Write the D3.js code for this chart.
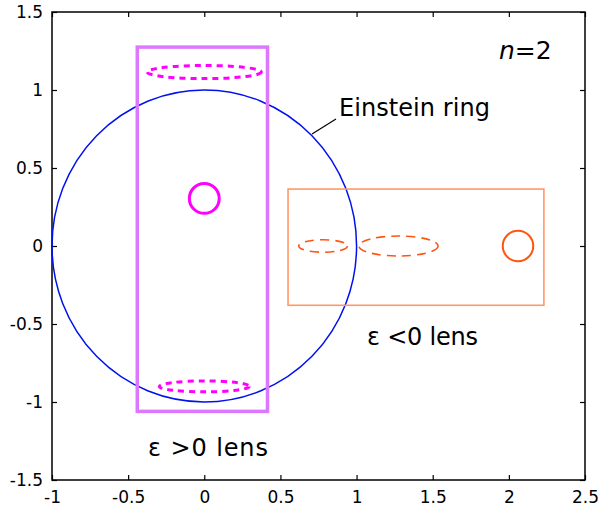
<!DOCTYPE html>
<html><head><meta charset="utf-8">
<script src="https://cdn.jsdelivr.net/npm/d3@7"></script>
<style>body{margin:0;background:#fff}svg{display:block}text{font-family:"DejaVu Sans",sans-serif;fill:#000}</style>
</head><body><svg id="c" width="600" height="512"></svg>
<script>
const xTicks = [-1, -0.5, 0, 0.5, 1, 1.5, 2, 2.5];
const yTicks = [-1.5, -1, -0.5, 0, 0.5, 1, 1.5];
const xDomain = [-1, 2.5];
const yDomain = [-1.5, 1.5];
// Einstein ring (data circle)
const ring = {cx: 0, cy: 0, r: 1};
// Lens boxes: [x0, x1, y0, y1]
const boxPos = [-0.44, 0.415, -1.06, 1.275];
const boxNeg = [0.55, 2.23, -0.38, 0.365];
// Source circles: cx, cy, r
const srcPos = {cx: 0, cy: 0.305, r: 0.098};
const srcNeg = {cx: 2.06, cy: 0.0, r: 0.1};
// Images (ellipses): cx, cy, rx, ry
const imgPos = [{cx: 0.0, cy: 1.115, rx: 0.375, ry: 0.042}, {cx: 0.0, cy: -0.9, rx: 0.295, ry: 0.035}];
const imgNeg = [{cx: 0.78, cy: 0.0, rx: 0.16, ry: 0.04}, {cx: 1.275, cy: 0.0, rx: 0.26, ry: 0.064}];

const svg = d3.select("#c");
const L = 52, R = 585, T = 12, B = 480;
const x = d3.scaleLinear().domain(xDomain).range([L, R]);
const y = d3.scaleLinear().domain(yDomain).range([B, T]);
const fmt = d => String(d);

// axes with inward ticks
const ax = [
  {g: d3.axisBottom(x).tickValues(xTicks).tickSize(-5).tickPadding(11).tickFormat(fmt), t: `translate(0,${B})`},
  {g: d3.axisTop(x).tickValues(xTicks).tickSize(-5).tickFormat(""), t: `translate(0,${T})`},
  {g: d3.axisLeft(y).tickValues(yTicks).tickSize(-5).tickPadding(9).tickFormat(fmt), t: `translate(${L},0)`},
  {g: d3.axisRight(y).tickValues(yTicks).tickSize(-5).tickFormat(""), t: `translate(${R},0)`}
];
ax.forEach(a => {
  const g = svg.append("g").attr("transform", a.t).call(a.g);
  g.select(".domain").remove();
  g.selectAll("line").attr("stroke", "#000").attr("stroke-width", 1.2);
  g.selectAll("text").style("font-size", "17px").attr("fill", "#000").style("font-family", '"DejaVu Sans",sans-serif');
});
svg.append("rect").attr("x", L).attr("y", T).attr("width", R - L).attr("height", B - T)
  .attr("fill", "none").attr("stroke", "#000").attr("stroke-width", 1.5);

const ell = (sel, d) => sel.append("ellipse")
  .attr("cx", x(d.cx)).attr("cy", y(d.cy))
  .attr("rx", x(d.cx + d.rx) - x(d.cx)).attr("ry", y(d.cy) - y(d.cy + d.ry)).attr("fill", "none");
const circ = (d) => svg.append("circle").attr("cx", x(d.cx)).attr("cy", y(d.cy))
  .attr("r", x(d.cx + d.r) - x(d.cx)).attr("fill", "none");

// Einstein ring
ell(svg, {cx: ring.cx, cy: ring.cy, rx: ring.r, ry: ring.r}).attr("stroke", "#0011ee").attr("stroke-width", 1.5);

// boxes
const box = (b, col, w) => svg.append("rect").attr("x", x(b[0])).attr("y", y(b[3]))
  .attr("width", x(b[1]) - x(b[0])).attr("height", y(b[2]) - y(b[3]))
  .attr("fill", "none").attr("stroke", col).attr("stroke-width", w);
box(boxPos, "#dd77ff", 3.5);
box(boxNeg, "#ff9966", 1.6);

// sources
circ(srcPos).attr("stroke", "#ff00ff").attr("stroke-width", 3);
circ(srcNeg).attr("stroke", "#ff5511").attr("stroke-width", 2);

// images
imgPos.forEach(d => ell(svg, d).attr("stroke", "#ff00ff").attr("stroke-width", 3).attr("stroke-dasharray", "6,5"));
imgNeg.forEach(d => ell(svg, d).attr("stroke", "#ff5511").attr("stroke-width", 1.6).attr("stroke-dasharray", "9,6"));

// labels
svg.append("line").attr("x1", 312).attr("y1", 134).attr("x2", 336).attr("y2", 119).attr("stroke", "#000").attr("stroke-width", 1.2);
svg.append("text").attr("x", 339).attr("y", 116).style("font-size", "24px").attr("textLength", 151).text("Einstein ring");
const n = svg.append("text").attr("x", 499).attr("y", 59).style("font-size", "25px");
n.append("tspan").style("font-style", "italic").text("n");
n.append("tspan").text("=2");
svg.append("text").attr("x", 367).attr("y", 345).style("font-size", "24px").attr("textLength", 111).text("ε <0 lens");
svg.append("text").attr("x", 148).attr("y", 456).style("font-size", "24px").attr("textLength", 120).text("ε >0 lens");
</script></body></html>
